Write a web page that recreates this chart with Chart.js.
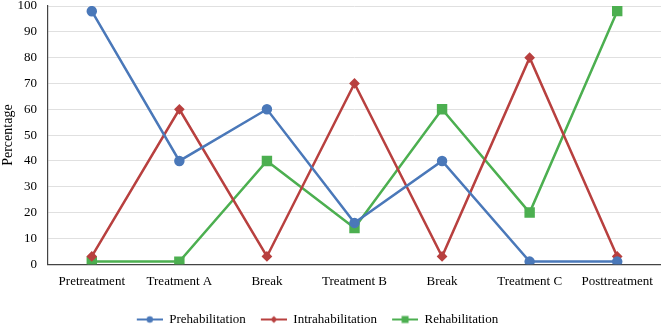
<!DOCTYPE html>
<html>
<head>
<meta charset="utf-8">
<script src="https://cdn.jsdelivr.net/npm/chart.js@4"></script>
<style>
  html, body { margin: 0; padding: 0; background: #fff; overflow: hidden; }
  #wrap { width: 661px; height: 332px; position: relative; }
  canvas { display: block; }
</style>
</head>
<body>
<div id="wrap"><canvas id="chart"></canvas></div>
<script>
// Chart data
const stages = ['Pretreatment', 'Treatment A', 'Break', 'Treatment B', 'Break', 'Treatment C', 'Posttreatment'];
const prehabilitation = [98, 40, 60, 16, 40, 1, 1];
const intrahabilitation = [3, 60, 3, 70, 3, 80, 3];
const rehabilitation = [1, 1, 40, 14, 60, 20, 98];
const yTicks = [0, 10, 20, 30, 40, 50, 60, 70, 80, 90, 100];

const blue = '#4a78b9';
const red = '#b8403f';
const green = '#4caf50';
const font = 'Liberation Serif';

// line+marker icon for the legend (transparent strip on the left adds spacing)
function legendIcon(color, style) {
    const c = document.createElement('canvas');
    c.width = 38;
    c.height = 10;
    const g = c.getContext('2d');
    g.strokeStyle = color;
    g.fillStyle = color;
    g.lineWidth = 2;
    g.beginPath();
    g.moveTo(12, 5);
    g.lineTo(38, 5);
    g.stroke();
    g.beginPath();
    if (style === 'circle') {
        g.arc(25, 5, 3.2, 0, Math.PI * 2);
    } else if (style === 'rectRot') {
        g.moveTo(25, 1.5); g.lineTo(28.5, 5); g.lineTo(25, 8.5); g.lineTo(21.5, 5); g.closePath();
    } else {
        g.rect(21.5, 1.5, 7, 7);
    }
    g.fill();
    return c;
}

function series(label, data, color, style, radius) {
    return {
        label: label,
        data: data,
        borderColor: color,
        backgroundColor: color,
        borderWidth: 2.5,
        pointStyle: style,
        pointRadius: radius,
        pointHoverRadius: radius,
        tension: 0,
        icon: legendIcon(color, style)
    };
}

// nudge the legend a bit left of centre like the original
const shiftLegend = {
    id: 'shiftLegend',
    afterLayout(chart) {
        chart.legend.right -= 38;
    }
};

new Chart(document.getElementById('chart'), {
    type: 'line',
    data: {
        labels: stages,
        datasets: [
            series('Prehabilitation', prehabilitation, blue, 'circle', 4),
            series('Intrahabilitation', intrahabilitation, red, 'rectRot', 3.6),
            series('Rehabilitation', rehabilitation, green, 'rect', 5.6)
        ]
    },
    plugins: [shiftLegend],
    options: {
        responsive: true,
        maintainAspectRatio: false,
        animation: false,
        layout: { padding: { left: 0, right: 0, top: 0, bottom: -4 }, autoPadding: false },
        plugins: {
            tooltip: { enabled: false },
            legend: {
                position: 'bottom',
                title: { display: true, text: '', color: '#000', font: { size: 1 }, padding: { top: 9, bottom: 0 } },
                labels: {
                    font: { family: font, size: 13 },
                    color: '#000',
                    padding: 3,
                    usePointStyle: true,
                    pointStyleWidth: 38,
                    generateLabels: function(chart) {
                        return chart.data.datasets.map((ds, i) => ({
                            text: ds.label,
                            fontColor: '#000',
                            pointStyle: ds.icon,
                            fillStyle: ds.borderColor,
                            strokeStyle: ds.borderColor,
                            lineWidth: 0,
                            hidden: false,
                            datasetIndex: i
                        }));
                    }
                }
            }
        },
        scales: {
            x: {
                offset: true,
                grid: { display: false, drawTicks: false },
                border: { color: '#444', width: 1.2 },
                ticks: {
                    font: { family: font, size: 13 },
                    color: '#000',
                    padding: 10,
                    maxRotation: 0,
                    autoSkip: false
                },
                afterFit: function(axis) {
                    axis.paddingLeft = 0;
                    axis.paddingRight = 0;
                }
            },
            y: {
                min: 0,
                max: 100,
                afterBuildTicks: function(axis) {
                    axis.ticks = yTicks.map(v => ({ value: v }));
                },
                afterFit: function(axis) {
                    axis.width = 48;
                    axis.paddingTop = 6;
                },
                grid: { color: '#e0e0e0', drawTicks: false },
                border: { color: '#444', width: 1.2 },
                ticks: {
                    font: { family: font, size: 13 },
                    color: '#000',
                    padding: 11
                },
                title: {
                    display: true,
                    text: 'Percentage',
                    font: { family: font, size: 14, lineHeight: 1.1 },
                    color: '#000',
                    padding: { top: 1, bottom: 0 }
                }
            }
        }
    }
});
</script>
</body>
</html>
